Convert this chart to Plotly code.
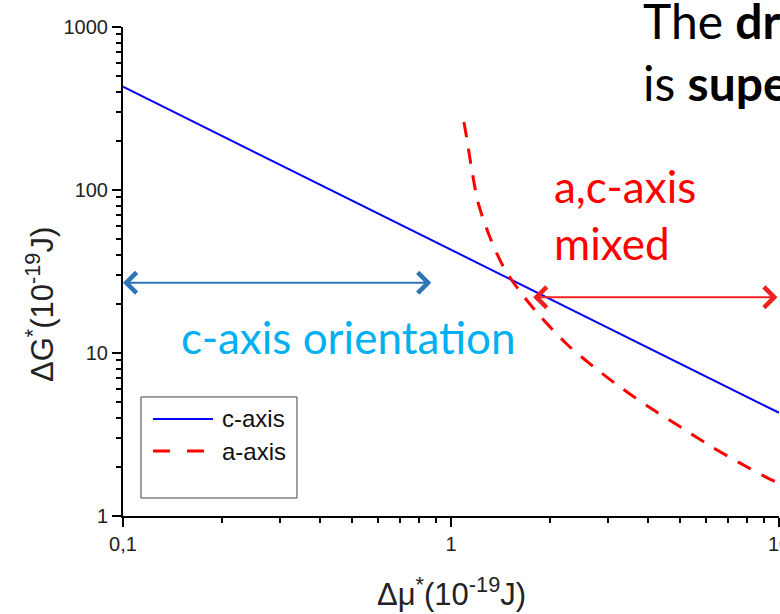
import numpy as np
import plotly.graph_objects as go

# ---------------- data ----------------
c_x = [0.1, 0.2, 0.5, 1, 2, 5, 10]
c_y = [430, 215, 86, 43, 21.5, 8.6, 4.3]

a_x = [1.095, 1.119, 1.155, 1.209, 1.306, 1.451, 1.646, 1.88, 2.27, 2.75,
       3.34, 4.10, 5.06, 6.25, 7.71, 9.52, 10]
a_y = [261, 203, 136, 84, 53, 33.2, 23.0, 16.6, 11.2, 8.09,
       6.01, 4.53, 3.47, 2.65, 2.08, 1.66, 1.6]

x_tickvals = [0.1, 1, 10]
x_ticktext = ["0,1", "1", "10"]
y_tickvals = [1, 10, 100, 1000]
y_ticktext = ["1", "10", "100", "1000"]

# region arrows (data coordinates)
c_region_x = [0.1, 0.88]
c_region_y = 27
ac_region_x = [1.78, 10]
ac_region_y = 22

series_names = ["c-axis", "a-axis"]

# ---------------- figure ----------------
fig = go.Figure()
fig.add_trace(go.Scatter(x=c_x, y=c_y, mode="lines", name=series_names[0],
                         line=dict(color="#0000FF", width=2), showlegend=False,
                         hoverinfo="skip"))
fig.add_trace(go.Scatter(x=a_x, y=a_y, mode="lines", name=series_names[1],
                         line=dict(color="#FF0000", width=3, dash="15px,12px",
                                   shape="spline", smoothing=0.8),
                         showlegend=False, hoverinfo="skip"))

minor_x = [k * 10.0 ** e for e in (-1, 0) for k in range(2, 10)]
minor_y = [k * 10.0 ** e for e in (0, 1, 2) for k in range(2, 10)]

tickfont = dict(family="Arial, Liberation Sans", size=20, color="#222222")
axis_common = dict(type="log", showline=True, linecolor="black", linewidth=2,
                   ticks="outside", ticklen=9, tickwidth=1.5, tickcolor="black",
                   tickmode="array", showgrid=False, zeroline=False,
                   automargin=False, tickfont=tickfont,
                   ticklabeloverflow="allow")

fig.update_xaxes(range=[-1, 1], tickvals=x_tickvals, ticktext=x_ticktext,
                 minor=dict(tickvals=minor_x, ticks="outside", ticklen=5,
                            tickwidth=1.5, tickcolor="black", showgrid=False),
                 **axis_common)
fig.update_yaxes(range=[0, 3], tickvals=y_tickvals, ticktext=y_ticktext,
                 minor=dict(tickvals=minor_y, ticks="outside", ticklen=5,
                            tickwidth=1.5, tickcolor="black", showgrid=False),
                 **axis_common)

annotations = []
# region arrows
for xs, yv, col in [(c_region_x, c_region_y, "#2E75B6"),
                    (ac_region_x, ac_region_y, "#F02020")]:
    annotations.append(dict(
        x=np.log10(xs[0]), y=np.log10(yv), ax=np.log10(xs[1]), ay=np.log10(yv),
        xref="x", yref="y", axref="x", ayref="y", text="", showarrow=True,
        arrowside="end+start", arrowhead=4, startarrowhead=4,
        arrowsize=2.0, startarrowsize=2.0, arrowwidth=2, arrowcolor=col,
        standoff=0, startstandoff=0))

calib = "Lato, Open Sans, sans-serif"
annotations += [
    dict(text="c-axis orientation", x=0.343, y=0.366, xref="paper", yref="paper",
         xanchor="center", yanchor="middle", showarrow=False,
         font=dict(family=calib, size=44, color="#00B0F0")),
    dict(text="a,c-axis<br>mixed", x=0.654, y=0.6175, xref="paper", yref="paper",
         xanchor="left", yanchor="middle", align="left", showarrow=False,
         font=dict(family=calib, size=44, color="#FF0000")),
    dict(text="The <b>dr</b><br>is <b>supe</b>", x=0.789, y=0.95,
         xref="paper", yref="paper", xanchor="left", yanchor="middle",
         align="left", showarrow=False,
         font=dict(family=calib, size=48, color="black")),
    dict(text="ΔG<sup>*</sup>(10<sup>-19</sup>J)", x=-0.1265, y=0.4315,
         xref="paper", yref="paper", textangle=-90, showarrow=False,
         xanchor="center", yanchor="middle",
         font=dict(family="Arial, Liberation Sans", size=31, color="#222222")),
    dict(text="Δμ<sup>*</sup>(10<sup>-19</sup>J)", x=0.5, y=-0.155,
         xref="paper", yref="paper", showarrow=False,
         xanchor="center", yanchor="middle",
         font=dict(family="Arial, Liberation Sans", size=31, color="#222222")),
    # manual legend labels
    dict(text=series_names[0], x=0.1479, y=0.1984, xref="paper", yref="paper",
         xanchor="left", yanchor="middle", showarrow=False,
         font=dict(family="Arial, Liberation Sans", size=24, color="#111111")),
    dict(text=series_names[1], x=0.1479, y=0.1329, xref="paper", yref="paper",
         xanchor="left", yanchor="middle", showarrow=False,
         font=dict(family="Arial, Liberation Sans", size=24, color="#111111")),
]

shapes = [
    dict(type="rect", xref="paper", yref="paper", x0=0.0274, x1=0.2652,
         y0=0.0368, y1=0.2434, line=dict(color="#404040", width=1),
         fillcolor="rgba(0,0,0,0)"),
    dict(type="line", xref="paper", yref="paper", x0=0.0457, x1=0.1372,
         y0=0.1984, y1=0.1984, line=dict(color="#0000FF", width=2)),
    dict(type="line", xref="paper", yref="paper", x0=0.0457, x1=0.1372,
         y0=0.1329, y1=0.1329, line=dict(color="#FF0000", width=3, dash="17px,17px")),
]

fig.update_layout(template="none", width=780, height=614,
                  margin=dict(l=123, r=1, t=27, b=98, autoexpand=False),
                  paper_bgcolor="white", plot_bgcolor="white",
                  showlegend=False, annotations=annotations, shapes=shapes)

fig.write_html("out.html")
